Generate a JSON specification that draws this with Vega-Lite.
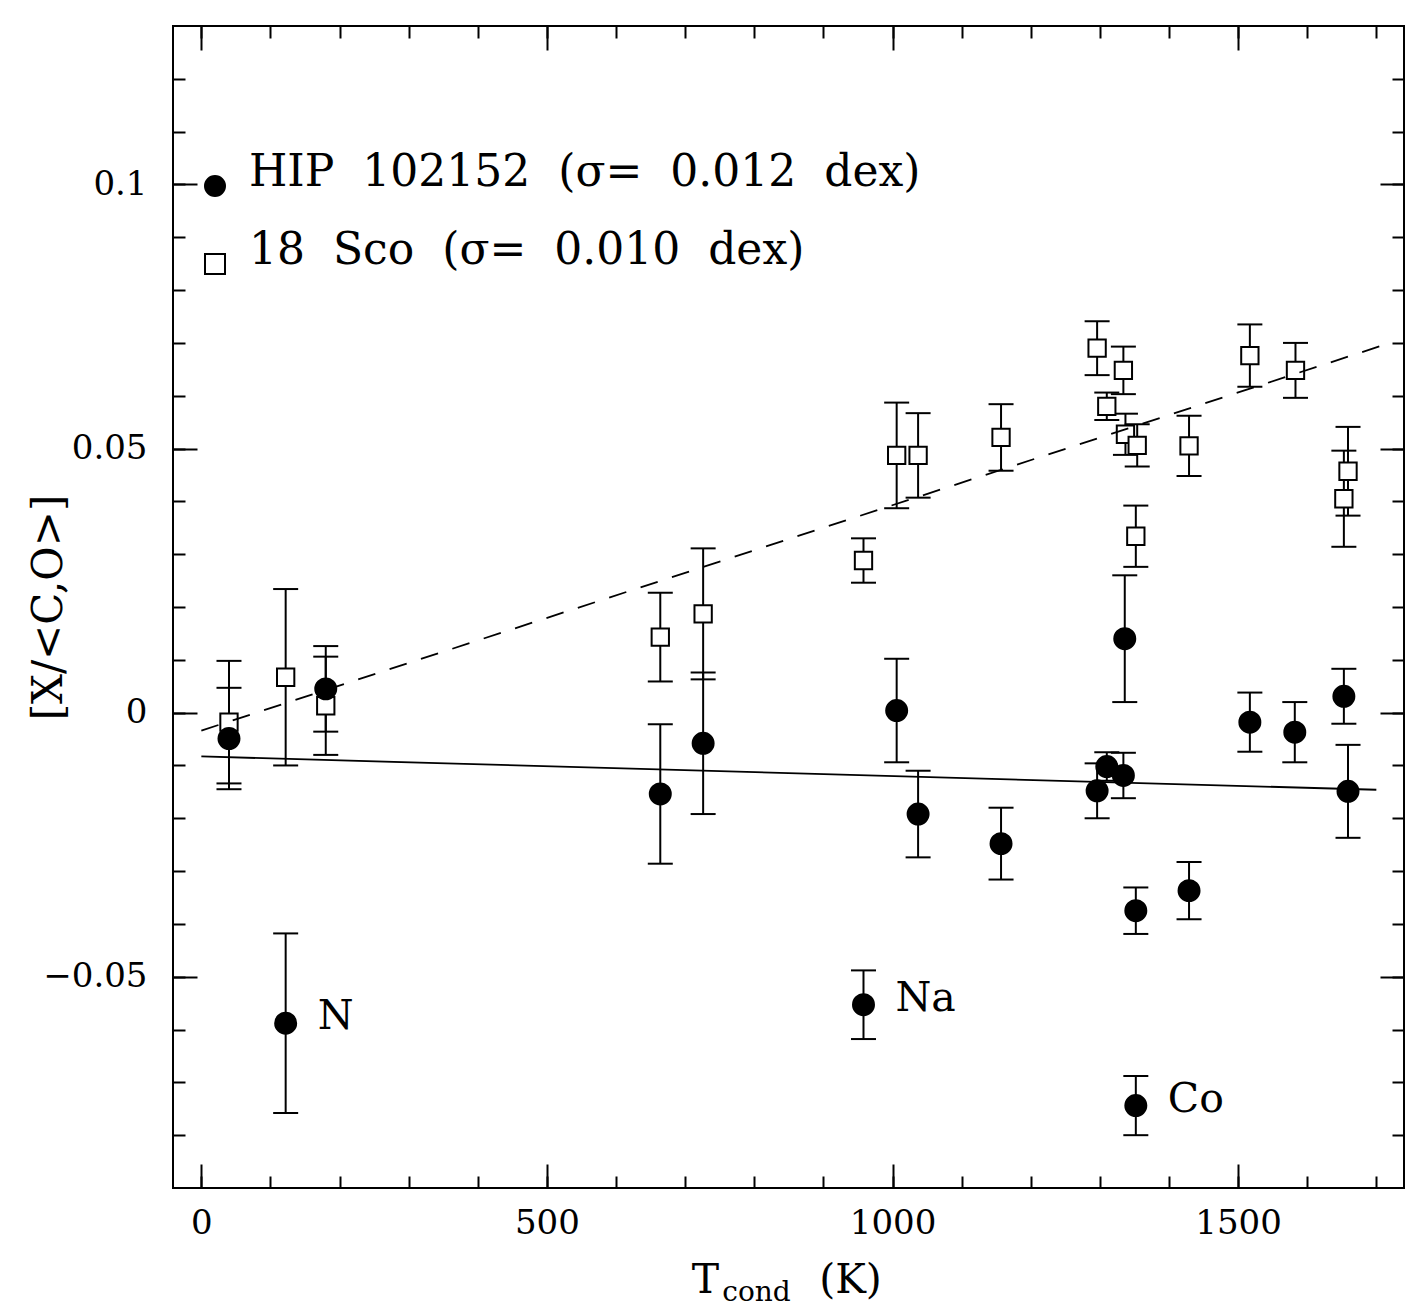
{
  "$schema": "https://vega.github.io/schema/vega-lite/v6.json",
  "width": 1231,
  "height": 1162,
  "autosize": {"type": "none"},
  "padding": {"left": 173, "top": 26, "right": 21, "bottom": 119},
  "background": "white",
  "view": {"stroke": "black", "strokeWidth": 2},
  "config": {
    "axis": {"grid": false, "domain": false, "tickColor": "black", "tickWidth": 2, "labelFont": "DejaVu Serif", "labelFontSize": 34, "labelColor": "black", "titleFont": "DejaVu Serif", "titleColor": "black", "titleFontWeight": "normal"}
  },
  "datasets": {
    "pts": [
      {"star": "18 Sco", "T": 40, "v": -0.0018, "lo": -0.0134, "hi": 0.0098},
      {"star": "18 Sco", "T": 122, "v": 0.0067, "lo": -0.0100, "hi": 0.0234},
      {"star": "18 Sco", "T": 180, "v": 0.0013, "lo": -0.0080, "hi": 0.0106},
      {"star": "18 Sco", "T": 664, "v": 0.0143, "lo": 0.0059, "hi": 0.0227},
      {"star": "18 Sco", "T": 726, "v": 0.0187, "lo": 0.0063, "hi": 0.0311},
      {"star": "18 Sco", "T": 958, "v": 0.0288, "lo": 0.0246, "hi": 0.0330},
      {"star": "18 Sco", "T": 1006, "v": 0.0487, "lo": 0.0387, "hi": 0.0587},
      {"star": "18 Sco", "T": 1037, "v": 0.0487, "lo": 0.0407, "hi": 0.0567},
      {"star": "18 Sco", "T": 1157, "v": 0.0521, "lo": 0.0458, "hi": 0.0584},
      {"star": "18 Sco", "T": 1296, "v": 0.0690, "lo": 0.0639, "hi": 0.0741},
      {"star": "18 Sco", "T": 1310, "v": 0.0580, "lo": 0.0554, "hi": 0.0606},
      {"star": "18 Sco", "T": 1334, "v": 0.0648, "lo": 0.0603, "hi": 0.0693},
      {"star": "18 Sco", "T": 1337, "v": 0.0527, "lo": 0.0488, "hi": 0.0566},
      {"star": "18 Sco", "T": 1352, "v": 0.0334, "lo": 0.0276, "hi": 0.0392},
      {"star": "18 Sco", "T": 1354, "v": 0.0506, "lo": 0.0466, "hi": 0.0546},
      {"star": "18 Sco", "T": 1429, "v": 0.0505, "lo": 0.0448, "hi": 0.0562},
      {"star": "18 Sco", "T": 1517, "v": 0.0676, "lo": 0.0617, "hi": 0.0735},
      {"star": "18 Sco", "T": 1583, "v": 0.0648, "lo": 0.0596, "hi": 0.0700},
      {"star": "18 Sco", "T": 1653, "v": 0.0405, "lo": 0.0314, "hi": 0.0496},
      {"star": "18 Sco", "T": 1659, "v": 0.0457, "lo": 0.0373, "hi": 0.0541},
      {"star": "HIP 102152", "T": 40, "v": -0.0049, "lo": -0.0145, "hi": 0.0047},
      {"star": "HIP 102152", "T": 122, "v": -0.0588, "lo": -0.0758, "hi": -0.0418, "el": "N"},
      {"star": "HIP 102152", "T": 180, "v": 0.0045, "lo": -0.0036, "hi": 0.0126},
      {"star": "HIP 102152", "T": 664, "v": -0.0154, "lo": -0.0286, "hi": -0.0022},
      {"star": "HIP 102152", "T": 726, "v": -0.0058, "lo": -0.0192, "hi": 0.0076},
      {"star": "HIP 102152", "T": 958, "v": -0.0553, "lo": -0.0618, "hi": -0.0488, "el": "Na"},
      {"star": "HIP 102152", "T": 1006, "v": 0.0004, "lo": -0.0094, "hi": 0.0102},
      {"star": "HIP 102152", "T": 1037, "v": -0.0192, "lo": -0.0274, "hi": -0.0110},
      {"star": "HIP 102152", "T": 1157, "v": -0.0248, "lo": -0.0316, "hi": -0.0180},
      {"star": "HIP 102152", "T": 1296, "v": -0.0148, "lo": -0.0200, "hi": -0.0096},
      {"star": "HIP 102152", "T": 1310, "v": -0.0102, "lo": -0.0129, "hi": -0.0075},
      {"star": "HIP 102152", "T": 1334, "v": -0.0119, "lo": -0.0162, "hi": -0.0076},
      {"star": "HIP 102152", "T": 1336, "v": 0.0140, "lo": 0.0020, "hi": 0.0260},
      {"star": "HIP 102152", "T": 1352, "v": -0.0375, "lo": -0.0419, "hi": -0.0331},
      {"star": "HIP 102152", "T": 1352, "v": -0.0744, "lo": -0.0800, "hi": -0.0688, "el": "Co"},
      {"star": "HIP 102152", "T": 1429, "v": -0.0337, "lo": -0.0391, "hi": -0.0283},
      {"star": "HIP 102152", "T": 1517, "v": -0.0018, "lo": -0.0074, "hi": 0.0038},
      {"star": "HIP 102152", "T": 1582, "v": -0.0037, "lo": -0.0094, "hi": 0.0020},
      {"star": "HIP 102152", "T": 1653, "v": 0.0031, "lo": -0.0021, "hi": 0.0083},
      {"star": "HIP 102152", "T": 1659, "v": -0.0149, "lo": -0.0237, "hi": -0.0061}
    ],
    "fits": [
      {"fit": "HIP 102152", "T": 0, "v": -0.0083},
      {"fit": "HIP 102152", "T": 1700, "v": -0.0146},
      {"fit": "18 Sco", "T": 0, "v": -0.0034},
      {"fit": "18 Sco", "T": 1720, "v": 0.0700}
    ]
  },
  "layer": [
    {
      "data": {"name": "pts"},
      "mark": {"type": "rule", "color": "black", "strokeWidth": 2},
      "encoding": {
        "x": {"field": "T", "type": "quantitative", "scale": {"domain": [-41, 1740], "nice": false, "zero": false},
          "axis": {"orient": "bottom", "values": [0, 500, 1000, 1500], "tickSize": -24, "format": "d", "labelPadding": 42, "title": "T", "titleFontSize": 41, "titleX": 532, "titleY": 104, "titleBaseline": "alphabetic", "titleAlign": "center"}},
        "y": {"field": "lo", "type": "quantitative", "scale": {"domain": [-0.09, 0.13], "nice": false, "zero": false},
          "axis": {"orient": "left", "values": [-0.05, 0, 0.05, 0.1], "tickSize": -24, "format": "~g", "labelPadding": 50, "title": "[X/<C,O>]", "titleFontSize": 42, "titleAngle": -90, "titleX": -125, "titleY": 581, "titleBaseline": "middle", "titleAlign": "center"}},
        "y2": {"field": "hi"}
      }
    },
    {
      "data": {"name": "pts"},
      "mark": {"type": "tick", "orient": "horizontal", "size": 25, "thickness": 2, "color": "black", "opacity": 1},
      "encoding": {
        "x": {"field": "T", "type": "quantitative", "scale": {"domain": [-41, 1740], "nice": false, "zero": false},
          "axis": {"orient": "bottom", "values": [0, 100, 200, 300, 400, 500, 600, 700, 800, 900, 1000, 1100, 1200, 1300, 1400, 1500, 1600, 1700], "tickSize": -12, "labels": false, "title": "cond", "titleFontSize": 28, "titleX": 583, "titleY": 112, "titleBaseline": "alphabetic", "titleAlign": "center"}},
        "y": {"field": "lo", "type": "quantitative", "scale": {"domain": [-0.09, 0.13], "nice": false, "zero": false},
          "axis": {"orient": "left", "values": [-0.08, -0.07, -0.06, -0.05, -0.04, -0.03, -0.02, -0.01, 0, 0.01, 0.02, 0.03, 0.04, 0.05, 0.06, 0.07, 0.08, 0.09, 0.1, 0.11, 0.12], "tickSize": -12, "labels": false, "title": null}}
      }
    },
    {
      "data": {"name": "pts"},
      "mark": {"type": "tick", "orient": "horizontal", "size": 25, "thickness": 2, "color": "black", "opacity": 1},
      "encoding": {
        "x": {"field": "T", "type": "quantitative", "scale": {"domain": [-41, 1740], "nice": false, "zero": false},
          "axis": {"orient": "top", "values": [0, 500, 1000, 1500], "tickSize": -24, "labels": false, "title": null}},
        "y": {"field": "hi", "type": "quantitative", "scale": {"domain": [-0.09, 0.13], "nice": false, "zero": false},
          "axis": {"orient": "right", "values": [-0.05, 0, 0.05, 0.1], "tickSize": -24, "labels": false, "title": null}}
      }
    },
    {
      "data": {"name": "pts"},
      "mark": {"type": "point", "filled": true, "opacity": 1, "strokeWidth": 2},
      "encoding": {
        "x": {"field": "T", "type": "quantitative", "scale": {"domain": [-41, 1740], "nice": false, "zero": false},
          "axis": {"orient": "top", "values": [0, 100, 200, 300, 400, 500, 600, 700, 800, 900, 1000, 1100, 1200, 1300, 1400, 1500, 1600, 1700], "tickSize": -12, "labels": false, "title": null}},
        "y": {"field": "v", "type": "quantitative", "scale": {"domain": [-0.09, 0.13], "nice": false, "zero": false},
          "axis": {"orient": "right", "values": [-0.08, -0.07, -0.06, -0.05, -0.04, -0.03, -0.02, -0.01, 0, 0.01, 0.02, 0.03, 0.04, 0.05, 0.06, 0.07, 0.08, 0.09, 0.1, 0.11, 0.12], "tickSize": -12, "labels": false, "title": null}},
        "shape": {"field": "star", "type": "nominal", "scale": {"domain": ["HIP 102152", "18 Sco"], "range": ["circle", "square"]},
          "legend": {"title": null, "orient": "none", "legendX": 20, "legendY": 138, "padding": 0, "labelFont": "DejaVu Serif", "labelFontSize": 44, "labelColor": "black", "labelBaseline": "alphabetic", "labelOffset": 12, "rowPadding": 29, "labelLimit": 0, "symbolStrokeWidth": 2, "symbolSize": 400,
            "labelExpr": "datum.label == 'HIP 102152' ? 'HIP\u00a0\u00a0102152\u00a0\u00a0(σ=\u00a0\u00a00.012\u00a0\u00a0dex)' : '18\u00a0\u00a0Sco\u00a0\u00a0(σ=\u00a0\u00a00.010\u00a0\u00a0dex)'"}},
        "fill": {"field": "star", "type": "nominal", "scale": {"domain": ["HIP 102152", "18 Sco"], "range": ["black", "white"]}},
        "stroke": {"field": "star", "type": "nominal", "scale": {"domain": ["HIP 102152", "18 Sco"], "range": ["black", "black"]}},
        "size": {"condition": {"test": "datum.star == 'HIP 102152'", "value": 440}, "value": 300}
      }
    },
    {
      "data": {"name": "fits"},
      "transform": [{"filter": "datum.fit == 'HIP 102152'"}],
      "mark": {"type": "line", "color": "black", "strokeWidth": 1.8},
      "encoding": {
        "x": {"field": "T", "type": "quantitative", "scale": {"domain": [-41, 1740], "nice": false, "zero": false},
          "axis": {"orient": "bottom", "ticks": false, "labels": false, "domain": false, "title": "(K)", "titleFontSize": 41, "titleX": 677, "titleY": 104, "titleBaseline": "alphabetic", "titleAlign": "center"}},
        "y": {"field": "v", "type": "quantitative", "scale": {"domain": [-0.09, 0.13], "nice": false, "zero": false}, "axis": null}
      }
    },
    {
      "data": {"name": "fits"},
      "transform": [{"filter": "datum.fit == '18 Sco'"}],
      "mark": {"type": "line", "color": "black", "strokeWidth": 1.8, "strokeDash": [18, 15]},
      "encoding": {
        "x": {"field": "T", "type": "quantitative", "scale": {"domain": [-41, 1740], "nice": false, "zero": false}, "axis": null},
        "y": {"field": "v", "type": "quantitative", "scale": {"domain": [-0.09, 0.13], "nice": false, "zero": false}, "axis": null}
      }
    },
    {
      "data": {"name": "pts"},
      "transform": [{"filter": "isValid(datum.el)"}],
      "mark": {"type": "text", "align": "left", "baseline": "alphabetic", "dx": 32, "dy": 6, "font": "DejaVu Serif", "fontSize": 41, "color": "black"},
      "encoding": {
        "x": {"field": "T", "type": "quantitative", "scale": {"domain": [-41, 1740], "nice": false, "zero": false}, "axis": null},
        "y": {"field": "v", "type": "quantitative", "scale": {"domain": [-0.09, 0.13], "nice": false, "zero": false}, "axis": null},
        "text": {"field": "el", "type": "nominal"}
      }
    }
  ],
  "resolve": {"axis": {"x": "independent", "y": "independent"}}
}
